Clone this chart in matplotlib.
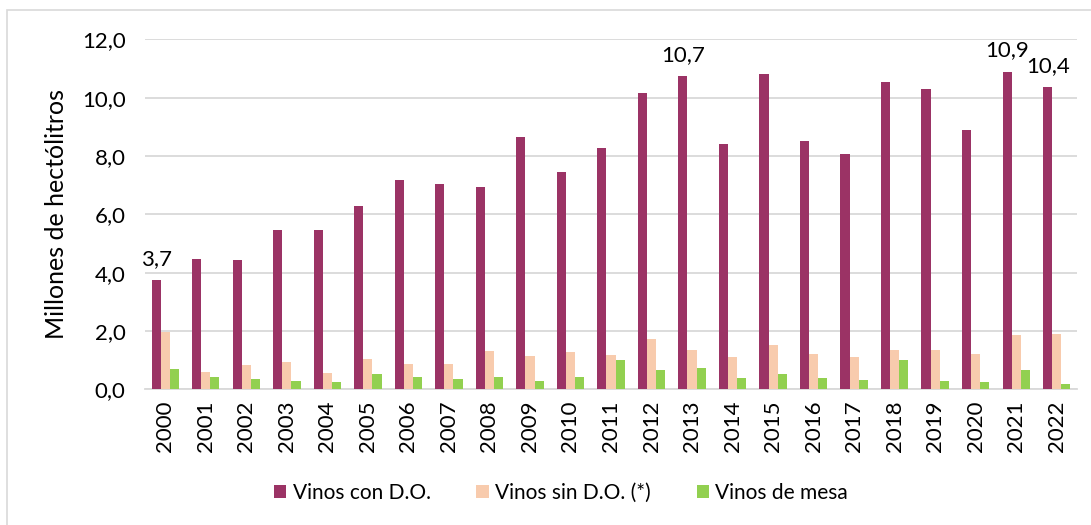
import numpy as np
import matplotlib
matplotlib.use("Agg")
import matplotlib.pyplot as plt
from matplotlib.patches import Rectangle

plt.rcParams['font.family'] = ['Lato', 'DejaVu Sans']

years = [str(y) for y in range(2000, 2023)]
con_do = [3.75, 4.46, 4.43, 5.45, 5.47, 6.29, 7.16, 7.03, 6.92, 8.66, 7.44, 8.27,
          10.16, 10.73, 8.40, 10.81, 8.52, 8.06, 10.52, 10.29, 8.88, 10.89, 10.35]
sin_do = [1.95, 0.58, 0.84, 0.95, 0.57, 1.05, 0.86, 0.88, 1.31, 1.15, 1.28, 1.19,
          1.71, 1.36, 1.10, 1.51, 1.22, 1.10, 1.36, 1.34, 1.22, 1.87, 1.91]
mesa = [0.71, 0.41, 0.35, 0.28, 0.25, 0.53, 0.42, 0.35, 0.43, 0.28, 0.43, 1.00,
        0.67, 0.72, 0.39, 0.53, 0.40, 0.33, 1.01, 0.29, 0.24, 0.67, 0.18]
series_names = ["Vinos con D.O.", "Vinos sin D.O. (*)", "Vinos de mesa"]
colors = ["#9b3365", "#f8cbad", "#92d050"]
labeled = {"2000": "3,7", "2013": "10,7", "2021": "10,9", "2022": "10,4"}

fig = plt.figure(figsize=(10.91, 5.25), dpi=100)
# chart frame
fig.patches.append(Rectangle((7 / 1091, -0.1), 1.2, 1 - 10 / 525 + 0.1,
                             transform=fig.transFigure, fill=False,
                             edgecolor="#d9d9d9", linewidth=1.2))
ax = fig.add_axes([145 / 1091, 1 - 389.3 / 525, 932 / 1091, 350 / 525])

x = np.arange(len(years))
w = 0.225
for i, (vals, name, c) in enumerate(zip([con_do, sin_do, mesa], series_names, colors)):
    ax.bar(x + (i - 1) * w, vals, width=w, color=c, label=name, zorder=3)

for i, yr in enumerate(years):
    if yr in labeled:
        ax.annotate(labeled[yr], (x[i] - w, con_do[i]), xytext=(0, 8),
                    textcoords="offset points", ha="center", va="bottom",
                    fontsize=16, color="black")

ax.set_xlim(-0.5, len(years) - 0.5)
ax.set_ylim(0, 12)
ax.set_yticks(np.arange(0, 12.1, 2))
ax.set_yticklabels([f"{v:.1f}".replace(".", ",") for v in np.arange(0, 12.1, 2)])
ax.set_xticks(x)
ax.set_xticklabels(years, rotation=90)
ax.tick_params(axis="both", length=0, labelsize=16, colors="black")
ax.tick_params(axis="x", pad=8)
ax.tick_params(axis="y", pad=14)
ax.grid(axis="y", color="#d9d9d9", linewidth=1.3, zorder=0)
for s in ["top", "right", "left"]:
    ax.spines[s].set_visible(False)
ax.spines["bottom"].set_color("#d9d9d9")
ax.spines["bottom"].set_linewidth(1.3)
ax.set_ylabel("Millones de hectólitros", fontsize=18, color="black", labelpad=10)

fig.legend(loc="center", bbox_to_anchor=(561 / 1091, 1 - 493 / 525), ncol=3,
           frameon=False, fontsize=15, handlelength=0.6, handleheight=0.6,
           handletextpad=0.3, columnspacing=2.2)

fig.savefig("out.png", dpi=100)
